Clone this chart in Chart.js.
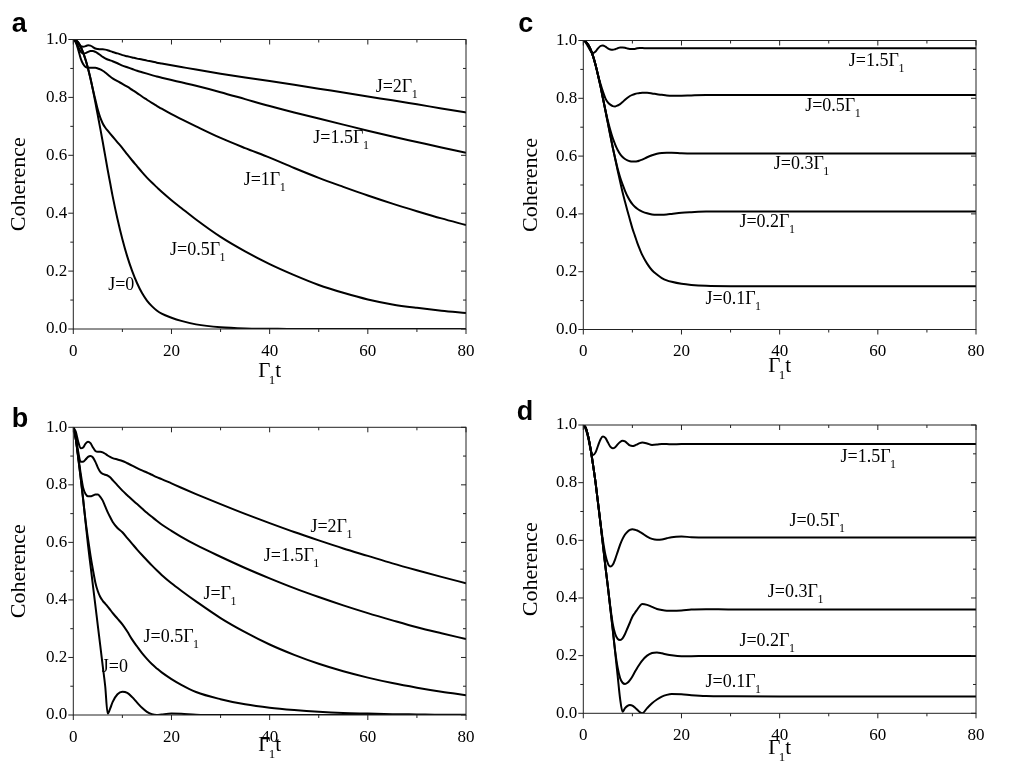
<!DOCTYPE html>
<html><head><meta charset="utf-8">
<style>
html,body{margin:0;padding:0;background:#fff;width:1024px;height:768px;overflow:hidden}
canvas{position:absolute}
</style>
<script src="https://cdn.jsdelivr.net/npm/chart.js@4.4.0/dist/chart.umd.min.js"></script>
</head><body>
<script>
// ---------- data ----------
const xTickValues = [0, 20, 40, 60, 80];
const xMinorValues = [10, 30, 50, 70];
const yTickValues = [0, 0.2, 0.4, 0.6, 0.8, 1.0];
const yMinorValues = [0.1, 0.3, 0.5, 0.7, 0.9];

const tAB = [0,0.5,1,1.5,2,2.5,3,3.5,4,4.5,5,5.5,6,6.5,7,7.5,8,9,10,11,12,13,14,15,16,17,18,20,22,25,30,35,40,45,50,55,60,65,70,75,80];
const tCD = [0,0.5,1,1.5,2,2.5,3,3.5,4,4.5,5,5.5,6,6.5,7,7.5,8,8.5,9,9.5,10,10.5,11,11.5,12,13,14,15,16,17,18,20,22,25,30,40,60,80];

// panel a
const aJ0  = [1,.997,.99,.975,.955,.93,.90,.865,.825,.782,.737,.692,.646,.598,.55,.505,.46,.38,.31,.25,.20,.158,.124,.098,.079,.064,.053,.039,.028,.016,.006,.002,.001,0,0,0,0,0,0,0,0];
const aJ05 = [1,.997,.99,.975,.955,.93,.90,.865,.827,.792,.757,.73,.71,.696,.685,.675,.665,.645,.625,.603,.582,.562,.542,.523,.506,.49,.474,.445,.418,.378,.318,.268,.224,.186,.152,.125,.102,.085,.073,.063,.055];
const aJ1  = [1,.99,.965,.935,.915,.905,.902,.902,.902,.902,.90,.897,.892,.886,.879,.872,.866,.856,.847,.837,.826,.815,.803,.792,.781,.771,.761,.742,.725,.70,.66,.625,.592,.556,.522,.491,.461,.433,.407,.382,.359];
const aJ15 = [1,.992,.975,.958,.952,.953,.957,.96,.96,.957,.952,.946,.94,.935,.931,.928,.925,.918,.91,.904,.898,.892,.887,.882,.877,.872,.868,.86,.852,.84,.818,.794,.77,.748,.727,.706,.685,.665,.646,.627,.609];
const aJ2  = [1,.995,.985,.977,.975,.977,.98,.979,.974,.969,.967,.966,.966,.965,.963,.96,.957,.952,.946,.942,.938,.934,.931,.927,.924,.92,.917,.911,.905,.896,.882,.869,.857,.844,.83,.817,.803,.79,.776,.762,.748];

// panel b
const bJ0  = [1,.96,.895,.825,.75,.67,.59,.52,.45,.38,.31,.24,.17,.1,.005,.022,.045,.072,.081,.077,.062,.043,.025,.011,.003,0,.002,.005,.004,.001,0,0,0,0,0,0,0,0,0,0,0];
const bJ05 = [1,.96,.895,.825,.75,.675,.612,.555,.505,.46,.43,.41,.397,.387,.377,.366,.355,.335,.315,.29,.262,.238,.215,.195,.177,.162,.148,.125,.105,.08,.055,.037,.025,.017,.011,.007,.005,.003,.002,.001,.001];
const bJ1  = [1,.96,.90,.84,.79,.768,.76,.76,.763,.766,.766,.758,.745,.725,.705,.688,.672,.65,.635,.615,.595,.575,.556,.538,.52,.503,.487,.458,.432,.395,.337,.288,.245,.209,.178,.152,.13,.111,.095,.081,.069];
const bJ15 = [1,.97,.915,.88,.88,.888,.897,.90,.895,.88,.86,.845,.838,.835,.832,.826,.817,.798,.78,.764,.748,.733,.718,.703,.689,.675,.662,.64,.619,.591,.55,.511,.475,.441,.41,.381,.354,.329,.305,.284,.264];
const bJ2  = [1,.985,.95,.927,.93,.943,.95,.945,.93,.918,.915,.915,.913,.908,.902,.897,.893,.888,.883,.875,.867,.858,.85,.843,.835,.827,.82,.805,.79,.768,.733,.699,.667,.636,.607,.579,.553,.527,.503,.48,.458];

// panel c
const cJ01 = [1,.996,.985,.968,.945,.915,.88,.842,.80,.758,.715,.672,.63,.59,.55,.512,.475,.442,.41,.38,.35,.325,.30,.278,.258,.228,.205,.19,.178,.17,.165,.158,.154,.151,.15,.15,.15,.15];
const cJ02 = [1,.996,.985,.968,.945,.915,.88,.842,.80,.758,.715,.672,.63,.592,.556,.527,.502,.48,.461,.446,.434,.425,.418,.412,.408,.402,.398,.397,.397,.398,.40,.404,.406,.408,.408,.408,.408,.408];
const cJ03 = [1,.996,.985,.968,.945,.915,.88,.842,.80,.76,.722,.69,.662,.64,.621,.607,.597,.59,.585,.582,.581,.581,.582,.585,.588,.596,.603,.608,.611,.612,.612,.61,.609,.609,.609,.609,.609,.609];
const cJ05 = [1,.996,.985,.968,.945,.915,.88,.85,.823,.80,.786,.778,.773,.772,.775,.78,.787,.795,.802,.808,.812,.815,.817,.818,.819,.819,.817,.814,.812,.81,.809,.809,.81,.811,.811,.811,.811,.811];
const cJ15 = [1,.993,.978,.963,.957,.962,.973,.981,.983,.979,.973,.969,.968,.97,.973,.976,.976,.975,.972,.971,.971,.971,.973,.974,.974,.973,.973,.973,.973,.973,.973,.973,.973,.973,.973,.973,.973,.973];

// panel d
const dJ01 = [1,.99,.96,.915,.86,.80,.73,.66,.585,.51,.44,.365,.29,.21,.13,.05,.005,.018,.026,.029,.027,.02,.012,.004,0,.018,.035,.048,.058,.064,.067,.066,.063,.06,.059,.058,.058,.058];
const dJ02 = [1,.99,.96,.915,.86,.80,.73,.66,.585,.51,.44,.365,.29,.215,.158,.122,.106,.102,.106,.115,.128,.143,.158,.171,.183,.20,.209,.211,.208,.204,.201,.198,.198,.199,.199,.199,.199,.199];
const dJ03 = [1,.99,.96,.915,.86,.80,.73,.66,.585,.51,.44,.37,.31,.275,.258,.254,.26,.275,.295,.315,.335,.348,.36,.372,.379,.376,.369,.362,.358,.356,.356,.357,.36,.361,.36,.36,.36,.36];
const dJ05 = [1,.99,.96,.915,.86,.80,.73,.66,.60,.55,.52,.509,.515,.535,.56,.585,.605,.62,.63,.636,.638,.637,.634,.629,.624,.613,.605,.602,.603,.607,.611,.613,.611,.61,.61,.61,.61,.61];
const dJ15 = [1,.985,.955,.915,.896,.905,.928,.95,.96,.955,.94,.925,.919,.923,.933,.941,.945,.943,.936,.929,.927,.929,.933,.937,.939,.936,.931,.932,.934,.934,.933,.934,.934,.934,.934,.934,.934,.934];

// curve labels (main text, subscript)
const namesA = [['J=0',''],['J=0.5Γ','1'],['J=1Γ','1'],['J=1.5Γ','1'],['J=2Γ','1']];
const namesB = [['J=0',''],['J=0.5Γ','1'],['J=Γ','1'],['J=1.5Γ','1'],['J=2Γ','1']];
const namesCD = [['J=0.1Γ','1'],['J=0.2Γ','1'],['J=0.3Γ','1'],['J=0.5Γ','1'],['J=1.5Γ','1']];
const yTitle = 'Coherence';
const xTitle = ['Γ','1','t'];

// ---------- layout ----------
const SERIF = '"Liberation Serif", "Times New Roman", serif';
const panels = [
  {left:0, top:0, area:{left:73.3,right:466,top:39.5,bottom:329}, letter:'a', lx:11.7, ly:31.7, titleDy:47.5,
   times:tAB, series:[aJ0,aJ05,aJ1,aJ15,aJ2], names:namesA,
   labelAt:[[7.1,.135],[19.7,.256],[34.7,.497],[48.9,.641],[61.6,.82]]},
  {left:0, top:384, area:{left:73.3,right:466,top:43.3,bottom:331}, letter:'b', lx:11.7, ly:42.7, titleDy:36,
   times:tAB, series:[bJ0,bJ05,bJ1,bJ15,bJ2], names:namesB,
   labelAt:[[5.8,.15],[14.3,.253],[26.5,.402],[38.8,.536],[48.3,.637]]},
  {left:512, top:0, area:{left:71.3,right:464,top:40.5,bottom:329.5}, letter:'c', lx:6.3, ly:31.7, titleDy:42.5,
   times:tCD, series:[cJ01,cJ02,cJ03,cJ05,cJ15], names:namesCD,
   labelAt:[[24.9,.088],[31.8,.356],[38.8,.554],[45.2,.756],[54.1,.912]]},
  {left:512, top:384, area:{left:71.3,right:464,top:41,bottom:329.3}, letter:'d', lx:4.7, ly:36, titleDy:40.7,
   times:tCD, series:[dJ01,dJ02,dJ03,dJ05,dJ15], names:namesCD,
   labelAt:[[24.9,.09],[31.8,.235],[37.6,.402],[42,.651],[52.4,.873]]}
];

function makeDeco(p){
  return {
    id:'deco',
    afterDraw(chart){
      const ctx = chart.ctx, a = chart.chartArea, xs = chart.scales.x, ys = chart.scales.y;
      ctx.save();
      ctx.strokeStyle = '#222'; ctx.lineWidth = 1;
      ctx.strokeRect(a.left, a.top, a.right - a.left, a.bottom - a.top);
      ctx.beginPath();
      const xt = xTickValues.map(v=>[v,5]).concat(xMinorValues.map(v=>[v,3]));
      xt.forEach(([v,L])=>{
        const px = xs.getPixelForValue(v);
        ctx.moveTo(px, a.bottom); ctx.lineTo(px, a.bottom + L);
        ctx.moveTo(px, a.top); ctx.lineTo(px, a.top + L);
      });
      const yt = yTickValues.map(v=>[v,5]).concat(yMinorValues.map(v=>[v,3]));
      yt.forEach(([v,L])=>{
        const py = ys.getPixelForValue(v);
        ctx.moveTo(a.left - L, py); ctx.lineTo(a.left, py);
        ctx.moveTo(a.right - L, py); ctx.lineTo(a.right, py);
      });
      ctx.stroke();
      ctx.fillStyle = '#000';
      ctx.textBaseline = 'alphabetic'; ctx.textAlign = 'left';
      // curve labels
      p.names.forEach((nm,i)=>{
        const [t,v] = p.labelAt[i];
        const px = xs.getPixelForValue(t), py = ys.getPixelForValue(v);
        ctx.font = '18px ' + SERIF;
        ctx.fillText(nm[0], px, py);
        if (nm[1]) {
          const w = ctx.measureText(nm[0]).width;
          ctx.font = '12px ' + SERIF;
          ctx.fillText(nm[1], px + w - 0.5, py + 6);
        }
      });
      // x title
      ctx.font = '21px ' + SERIF;
      const w1 = ctx.measureText(xTitle[0]).width, w3 = ctx.measureText(xTitle[2]).width;
      ctx.font = '13px ' + SERIF;
      const w2 = ctx.measureText(xTitle[1]).width;
      const total = w1 + w2 + w3 - 1.5;
      let cx = (a.left + a.right)/2 - total/2;
      const by = a.bottom + p.titleDy;
      ctx.font = '21px ' + SERIF; ctx.fillText(xTitle[0], cx, by);
      ctx.font = '13px ' + SERIF; ctx.fillText(xTitle[1], cx + w1 - 1.5, by + 7);
      ctx.font = '21px ' + SERIF; ctx.fillText(xTitle[2], cx + w1 + w2 - 1.5, by);
      // panel letter
      ctx.font = 'bold 27px "Liberation Sans", Arial, sans-serif';
      ctx.fillText(p.letter, p.lx, p.ly);
      ctx.restore();
    }
  };
}

panels.forEach(p=>{
  const cv = document.createElement('canvas');
  cv.width = 512; cv.height = 384;
  cv.style.left = p.left + 'px'; cv.style.top = p.top + 'px';
  document.body.appendChild(cv);
  const datasets = p.series.map(vals=>({
    data: p.times.map((t,i)=>({x:t, y:vals[i]})),
    borderColor:'#000', borderWidth:2, pointRadius:0, fill:false,
    cubicInterpolationMode:'monotone'
  }));
  new Chart(cv, {
    type:'line',
    data:{datasets},
    options:{
      responsive:false, animation:false, devicePixelRatio:1, events:[],
      layout:{padding:{top:p.area.top, right:512 - p.area.right, left:0, bottom:0}},
      plugins:{legend:{display:false}, tooltip:{enabled:false}},
      scales:{
        x:{type:'linear', min:0, max:80,
           grid:{display:false, drawTicks:false}, border:{display:false},
           afterBuildTicks:s=>{ s.ticks = xTickValues.map(v=>({value:v})); },
           ticks:{font:{family:SERIF, size:17}, color:'#000', padding:12, maxRotation:0, autoSkip:false},
           afterFit:s=>{ s.height = 384 - p.area.bottom; }},
        y:{type:'linear', min:0, max:1,
           grid:{display:false, drawTicks:false}, border:{display:false},
           afterBuildTicks:s=>{ s.ticks = yTickValues.map(v=>({value:v})); },
           ticks:{font:{family:SERIF, size:17}, color:'#000', padding:6, autoSkip:false,
                  callback:v=>Number(v).toFixed(1)},
           title:{display:true, text:yTitle, font:{family:SERIF, size:22}, color:'#000', padding:{top:5.8, bottom:0}},
           afterFit:s=>{ s.width = p.area.left; }}
      }
    },
    plugins:[makeDeco(p)]
  });
});
</script>
</body></html>
